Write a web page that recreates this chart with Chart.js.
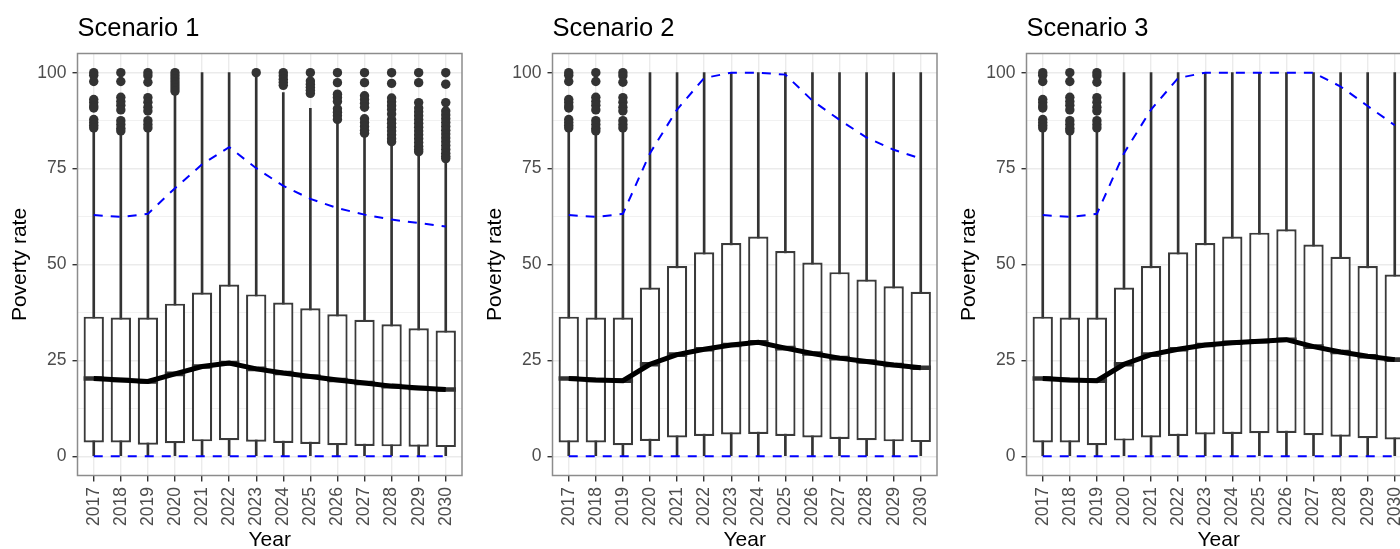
<!DOCTYPE html>
<html>
<head>
<meta charset="utf-8">
<script src="https://cdn.jsdelivr.net/npm/chart.js@4.4.0/dist/chart.umd.min.js"></script>
<style>
  html, body { margin: 0; padding: 0; background: #fff; overflow: hidden; width: 1400px; height: 549px; }
  canvas { position: absolute; top: 0; }
</style>
</head>
<body>
<canvas id="c1" width="475" height="549" style="left:0px"></canvas>
<canvas id="c2" width="475" height="549" style="left:475px"></canvas>
<canvas id="c3" width="475" height="549" style="left:949px"></canvas>
<script>
const years = [2017, 2018, 2019, 2020, 2021, 2022, 2023, 2024, 2025, 2026, 2027, 2028, 2029, 2030];
const yTicks = [0, 25, 50, 75, 100];
const whiskerLow = [0, 0, 0, 0, 0, 0, 0, 0, 0, 0, 0, 0, 0, 0];
const lowerBand = [0, 0, 0, 0, 0, 0, 0, 0, 0, 0, 0, 0, 0, 0];

// Scenario 1
const s1Q1 = [3.6, 3.6, 3.0, 3.4, 3.9, 4.2, 3.8, 3.5, 3.2, 2.9, 2.7, 2.6, 2.5, 2.4];
const s1Q3 = [36.4, 36.2, 36.2, 39.8, 42.7, 44.8, 42.2, 40.1, 38.6, 37.0, 35.6, 34.4, 33.4, 32.8];
const s1Median = [20.3, 19.9, 19.5, 21.5, 23.4, 24.3, 22.8, 21.7, 20.8, 19.9, 19.1, 18.3, 17.8, 17.4];
const s1WhiskerHigh = [84.5, 84.2, 85.0, 94.5, 100, 100, 99.3, 94.8, 90.7, 87.0, 83.6, 81.5, 79.0, 77.2];
const s1Upper = [62.9, 62.4, 63.2, 69.9, 76.1, 80.6, 75.1, 70.5, 67.1, 64.7, 63.0, 61.7, 60.8, 59.9];
const s1Outliers = [
  [100, 99.3, 97.7, 93, 92.2, 91.3, 90.8, 87.8, 87, 86.3, 85.6],
  [100, 97.7, 93.6, 92.5, 91.5, 90.3, 87.5, 86.5, 85.5, 84.8],
  [100, 99.2, 97.5, 93.5, 92.3, 91, 90, 87.5, 86.5, 85.6],
  [100, 99.2, 98.4, 97.6, 96.8, 96, 95.2],
  [],
  [],
  [100],
  [100, 99.2, 98.3, 97.5, 96.7],
  [100, 97.8, 97, 96.2, 95.4, 94.6],
  [100, 97.4, 94.4, 93.5, 92.5, 90.6, 89.7, 88.8, 87.8],
  [100, 97.4, 94, 93, 92, 91, 88, 87, 86, 85, 84.2],
  [100, 97.2, 93.4, 92.4, 91.4, 90.4, 89.2, 87.8, 86.8, 85.8, 84.8, 83.8, 82.8, 82],
  [100, 97.4, 92.2, 90.8, 89.8, 88.8, 87.8, 86.8, 85.8, 84.8, 83.8, 82.8, 81.8, 80.8, 80, 79.4],
  [100, 97, 92.2, 90, 89, 88, 87, 86, 85, 84, 83, 82, 81, 80, 79, 78.2, 77.6]
];

// Scenario 2
const s2Q1 = [3.6, 3.6, 2.9, 4.0, 4.9, 5.3, 5.7, 5.8, 5.3, 4.9, 4.5, 4.2, 3.9, 3.7];
const s2Q3 = [36.4, 36.2, 36.2, 44.0, 49.6, 53.2, 55.6, 57.3, 53.5, 50.5, 48.0, 46.1, 44.3, 42.9];
const s2Median = [20.3, 19.9, 19.7, 24.0, 26.5, 27.9, 29.0, 29.7, 28.2, 26.8, 25.6, 24.7, 23.8, 23.1];
const s2WhiskerHigh = [84.5, 84.2, 85.0, 100, 100, 100, 100, 100, 100, 100, 100, 100, 100, 100];
const s2Upper = [62.9, 62.4, 63.2, 79.0, 90.4, 98.6, 100, 100, 99.5, 92.7, 87.7, 83.1, 79.9, 77.6];
const s2Outliers = [
  [100, 99.3, 97.7, 93, 92.2, 91.3, 90.8, 87.8, 87, 86.3, 85.6],
  [100, 97.7, 93.6, 92.5, 91.5, 90.3, 87.5, 86.5, 85.5, 84.8],
  [100, 99.2, 97.5, 93.5, 92.3, 91, 90, 87.5, 86.5, 85.6],
  [], [], [], [], [], [], [], [], [], [], []
];

// Scenario 3
const s3Q1 = [3.6, 3.6, 2.9, 4.1, 4.9, 5.3, 5.7, 5.8, 6.0, 6.1, 5.5, 5.1, 4.7, 4.4];
const s3Q3 = [36.4, 36.2, 36.2, 44.0, 49.6, 53.2, 55.6, 57.3, 58.3, 59.2, 55.2, 52.0, 49.6, 47.4];
const s3Median = [20.3, 19.9, 19.7, 24.0, 26.5, 27.9, 29.0, 29.6, 30.0, 30.4, 28.6, 27.2, 26.1, 25.2];
const s3WhiskerHigh = [84.5, 84.2, 85.0, 100, 100, 100, 100, 100, 100, 100, 100, 100, 100, 100];
const s3Upper = [62.9, 62.4, 63.2, 79.0, 90.4, 98.6, 100, 100, 100, 100, 100, 96.4, 91.3, 86.3];
const s3Outliers = s2Outliers;

const FONT = "'Liberation Sans', Arial, sans-serif";

// ggplot-style frame round the panel
const panelBorder = {
  id: 'panelBorder',
  afterDraw(chart) {
    const a = chart.chartArea, ctx = chart.ctx;
    ctx.save();
    ctx.strokeStyle = '#8c8c8c';
    ctx.lineWidth = 1.5;
    ctx.strokeRect(a.left, a.top, a.right - a.left, a.bottom - a.top);
    ctx.restore();
  }
};

function xy(arr) {
  return arr.map((v, i) => ({ x: i + 1, y: v }));
}

function makePanel(id, title, q1, q3, med, whiskerHigh, upper, outliers) {
  const outlierPts = [];
  outliers.forEach((list, i) => list.forEach(v => outlierPts.push({ x: i + 1, y: v })));

  new Chart(document.getElementById(id), {
    type: 'bar',
    data: {
      datasets: [
        {
          type: 'line', data: xy(med), borderColor: '#000', borderWidth: 5,
          pointRadius: 0, tension: 0, order: 0
        },
        {
          type: 'bar', data: med.map((m, i) => ({ x: i + 1, y: [m - 0.6, m + 0.6] })),
          backgroundColor: '#333', borderWidth: 0, grouped: false,
          categoryPercentage: 1, barPercentage: 0.75, order: 1
        },
        {
          type: 'line', data: xy(upper), borderColor: '#0000ff', borderWidth: 2,
          borderDash: [9, 8], pointRadius: 0, tension: 0, order: 2
        },
        {
          type: 'line', data: xy(lowerBand), borderColor: '#0000ff', borderWidth: 2,
          borderDash: [9, 8], pointRadius: 0, tension: 0, order: 2
        },
        {
          type: 'bar', data: q1.map((v, i) => ({ x: i + 1, y: [v, q3[i]] })),
          backgroundColor: '#fff', borderColor: '#3a3a3a', borderWidth: 2.2, borderSkipped: false,
          grouped: false, categoryPercentage: 1, barPercentage: 0.75, order: 3
        },
        {
          type: 'scatter', data: outlierPts, backgroundColor: '#333', borderWidth: 0,
          pointRadius: 4.7, order: 4
        },
        {
          type: 'bar', data: whiskerLow.map((v, i) => ({ x: i + 1, y: [v, whiskerHigh[i]] })),
          backgroundColor: '#333', borderWidth: 0, barThickness: 2, grouped: false, order: 5
        }
      ]
    },
    options: {
      responsive: false,
      animation: false,
      layout: { padding: { left: 0, right: 13, top: 0, bottom: 0 } },
      plugins: {
        legend: { display: false },
        tooltip: { enabled: false },
        title: {
          display: true, text: title, align: 'start', fullSize: false, color: '#000',
          font: { family: FONT, size: 25.5, weight: 'normal', lineHeight: 1.2 },
          padding: { top: 13.2, bottom: 9.7 }
        }
      },
      scales: {
        x: {
          type: 'linear', min: 0.4, max: 14.6, offset: false,
          afterFit(scale) { scale.height = 73.5; },
          grid: { offset: false, color: '#ebebeb', lineWidth: 1.4, tickColor: '#333', tickLength: 6, tickWidth: 1.4 },
          border: { display: false },
          ticks: {
            stepSize: 1, includeBounds: false, autoSkip: false, minRotation: 90, maxRotation: 90,
            padding: 5.5, color: '#4d4d4d', font: { family: FONT, size: 17.5 },
            callback: v => Number.isInteger(v) ? String(years[v - 1]) : ''
          },
          title: {
            display: true, text: 'Year', color: '#000',
            font: { family: FONT, size: 21, lineHeight: 0.8 }, padding: { top: 0, bottom: 0 }
          }
        },
        y: {
          type: 'linear', min: -5, max: 105, beginAtZero: false,
          afterFit(scale) { scale.width = 77.5; },
          grid: {
            color: '#ebebeb',
            lineWidth: ctx => (yTicks.includes(ctx.tick.value) ? 1.4 : 0.7),
            tickColor: ctx => (yTicks.includes(ctx.tick.value) ? '#333' : 'rgba(0,0,0,0)'),
            tickLength: 5, tickWidth: 1.4
          },
          border: { display: false },
          ticks: {
            stepSize: 12.5, includeBounds: false, autoSkip: false, padding: 6,
            color: '#4d4d4d', font: { family: FONT, size: 17.5 },
            callback: v => (yTicks.includes(v) ? String(v) : '')
          },
          title: {
            display: true, text: 'Poverty rate', color: '#000',
            font: { family: FONT, size: 21, lineHeight: 1.2 }, padding: { top: 7.6, bottom: 0 }
          }
        }
      }
    },
    plugins: [panelBorder]
  });
}

makePanel('c1', 'Scenario 1', s1Q1, s1Q3, s1Median, s1WhiskerHigh, s1Upper, s1Outliers);
makePanel('c2', 'Scenario 2', s2Q1, s2Q3, s2Median, s2WhiskerHigh, s2Upper, s2Outliers);
makePanel('c3', 'Scenario 3', s3Q1, s3Q3, s3Median, s3WhiskerHigh, s3Upper, s3Outliers);
</script>
</body>
</html>
